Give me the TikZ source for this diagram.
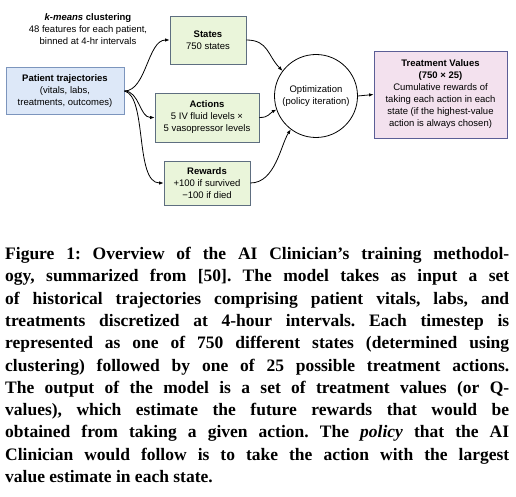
\documentclass[tikz,border=0pt]{standalone}
\usepackage{fontspec}
\setmainfont{Liberation Sans}
\newfontfamily\capfont{Liberation Serif}
\usetikzlibrary{arrows.meta}
\definecolor{gfill}{HTML}{EAF5DA}
\definecolor{gdraw}{HTML}{5E6E80}
\definecolor{bfill}{HTML}{DDE8F8}
\definecolor{bdraw}{HTML}{7C95BD}
\definecolor{pfill}{HTML}{F3E1EE}
\definecolor{pdraw}{HTML}{5B5E96}
\tikzset{
  lbl/.style={align=center,inner sep=0pt,font=\fontsize{9.5}{12}\selectfont},
  gbox/.style={lbl,draw=gdraw,fill=gfill,line width=0.8pt},
  bbox/.style={lbl,draw=bdraw,fill=bfill,line width=0.8pt},
  pbox/.style={lbl,draw=pdraw,fill=pfill,line width=0.8pt},
  conn/.style={line width=0.8pt,-{Latex[length=4.5pt,width=3.5pt]}},
}
\begin{document}
\begin{tikzpicture}[x=1pt,y=-1pt]
\useasboundingbox (0,0) rectangle (516,497);
\node[lbl] (km) at (88,29) {\textbf{\textit{k-means}} \textbf{clustering}\\48 features for each patient,\\binned at 4-hr intervals};
\node[gbox,minimum width=76pt,minimum height=48pt] (st) at (208,40) {\textbf{States}\\750 states};
\node[bbox,minimum width=118pt,minimum height=47pt] (pat) at (65,91) {\textbf{Patient trajectories}\\(vitals, labs,\\treatments, outcomes)};
\node[gbox,minimum width=104pt,minimum height=49pt] (ac) at (207,117.5) {\textbf{Actions}\\5 IV fluid levels ×\\5 vasopressor levels};
\node[gbox,minimum width=86pt,minimum height=44pt] (rw) at (207,183) {\textbf{Rewards}\\+100 if survived\\−100 if died};
\node[lbl,draw,circle,line width=0.8pt,minimum size=83pt] (opt) at (316,96) {Optimization\\(policy iteration)};
\node[pbox,minimum width=133pt,minimum height=87pt] (tv) at (440.5,94.5) {\textbf{Treatment Values}\\\textbf{(750 × 25)}\\Cumulative rewards of\\taking each action in each\\state (if the highest-value\\action is always chosen)};
\draw[conn] (pat.east) .. controls +(22,0) and +(-22,0) .. (st.west);
\draw[conn] (pat.east) .. controls +(15,0) and +(-15,0) .. (ac.west);
\draw[conn] (pat.east) .. controls +(23,5) and +(-29,0) .. (rw.west);
\draw[conn] (st.east) .. controls +(22,0) and +(-15,-15) .. (opt.143);
\draw[conn] (ac.east) .. controls +(10,0) and +(-8,4) .. (opt.199);
\draw[conn] (rw.east) .. controls +(25,0) and +(-10,15) .. (opt.233);
\draw[conn] (opt.east) -- (tv.west);
\node[anchor=north west,inner sep=0pt,text width=504pt,align=justify,font=\capfont\bfseries] (cap) at (5,247) {\fontsize{17.5}{22.3}\selectfont\parindent=0pt\tolerance=9999\emergencystretch=20pt\frenchspacing
Figure 1: Overview of the AI Clinician’s training methodol-\linebreak ogy, summarized from [50]. The model takes as input a set\linebreak of historical trajectories comprising patient vitals, labs, and\linebreak treatments discretized at 4-hour intervals. Each timestep is\linebreak represented as one of 750 different states (determined using\linebreak clustering) followed by one of 25 possible treatment actions.\linebreak The output of the model is a set of treatment values (or Q-\linebreak values), which estimate the future rewards that would be\linebreak obtained from taking a given action. The \textit{policy} that the AI\linebreak Clinician would follow is to take the action with the largest\linebreak value estimate in each state.\par};
\end{tikzpicture}
\end{document}
